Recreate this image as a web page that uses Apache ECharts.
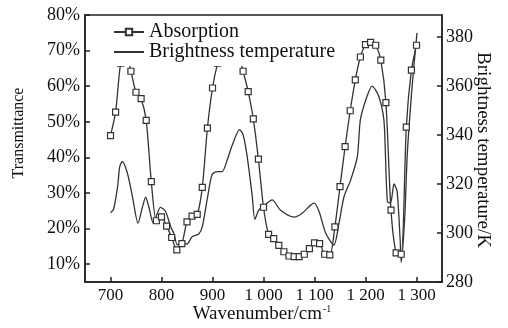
<!DOCTYPE html>
<html><head><meta charset="utf-8">
<script src="https://cdn.jsdelivr.net/npm/echarts@6/dist/echarts.min.js"></script>
<style>html,body{margin:0;padding:0;background:#fff}#c{width:508px;height:328px}</style>
</head><body><div id="c"></div>
<script>
// Absorption (transmittance %) sampled every 10 cm^-1
const absWave = [700,710,720,730,740,750,760,770,780,790,800,810,820,830,840,850,860,870,880,890,900,910,920,930,940,950,960,970,980,990,1000,1010,1020,1030,1040,1050,1060,1070,1080,1090,1100,1110,1120,1130,1140,1150,1160,1170,1180,1190,1200,1210,1220,1230,1240,1250,1260,1270,1280,1290,1300];
const absValue = [46.1,52.7,66.5,69,64.2,58.3,56.5,50.4,33.2,22.2,23.3,20.7,17.5,14.0,15.8,21.9,23.5,24.0,31.6,48.2,59.5,66.5,71,74,74,70,64.2,58.5,50.8,39.5,26.0,18.4,17.2,15.3,13.5,12.3,12.1,12.1,12.8,14.4,16.0,15.8,12.8,12.6,20.5,31.8,43.0,53.1,61.8,68.2,71.7,72.3,71.5,67.3,55.4,25.2,13.2,12.8,48.5,64.5,71.5];
// Brightness temperature (K)
const btWave = [700,706,714,718,723,733,743,754,762,769,775,784,798,808,818,824,831,837,850,860,873,880,890,899,909,919,929,939,953,960,968,978,983,991,1001,1017,1033,1060,1076,1099,1109,1122,1138,1148,1158,1171,1184,1190,1203,1213,1226,1236,1239,1243,1249,1256,1262,1268,1270,1277,1282,1292,1301];
const btValue = [308.3,309.7,319,327,329.2,324.5,314.9,304,310.1,314.6,310.8,304,310.5,308.8,302.6,299.9,295.1,295.8,295.5,298.5,299.6,302.6,314.2,323.8,325.1,325.1,329.9,336,342.2,340.1,331.2,314.9,305.6,309.4,311.1,313.5,309.4,306.5,308.1,312.2,308.8,299.9,295.1,304,314.9,321.7,331.2,346.3,355.8,360,355.8,346.3,332.6,312.8,312.2,320,317,297,288,306.7,332.6,361.3,381.7];
const xTicks = [700,800,900,1000,1100,1200,1300];
const leftTicks = [10,20,30,40,50,60,70,80];
const rightTicks = [280,300,320,340,360,380];
const seriesNames = ['Absorption','Brightness temperature'];

const FONT = '"Liberation Serif","Times New Roman",serif';
const LC = '#333';
const chart = echarts.init(document.getElementById('c'));
chart.setOption({
  animation:false,
  grid:{left:85,right:66,top:15,bottom:46,show:true,borderColor:'#222',borderWidth:1.5,backgroundColor:'transparent'},
  legend:{
    left:105, top:20, orient:'vertical', itemGap:0, itemWidth:30, itemHeight:8,
    padding:[2,6,4,8], backgroundColor:'#fff',
    textStyle:{fontFamily:FONT,fontSize:20,color:'#111',lineHeight:20},
    data:[
      {name:seriesNames[0]},
      {name:seriesNames[1], itemStyle:{color:'rgba(0,0,0,0)',borderColor:'rgba(0,0,0,0)',borderWidth:0}}
    ]
  },
  xAxis:{
    type:'value', min:650, max:1350,
    axisLine:{lineStyle:{color:'#222',width:1.5}},
    axisTick:{inside:true,length:5,customValues:xTicks,lineStyle:{color:'#222',width:1.5}},
    axisLabel:{customValues:xTicks,margin:5,fontFamily:FONT,fontSize:17,color:'#111',
      formatter:v=>v>=1000?(String(v)[0]+' '+String(v).slice(1)):String(v)},
    splitLine:{show:false}
  },
  yAxis:[{
    type:'value', min:5, max:80, position:'left',
    axisLine:{show:true,lineStyle:{color:'#222',width:1.5}},
    axisTick:{show:true,inside:true,length:5,customValues:leftTicks,lineStyle:{color:'#222',width:1.5}},
    axisLabel:{customValues:leftTicks,margin:5,fontFamily:FONT,fontSize:18,color:'#111',formatter:'{value}%'},
    splitLine:{show:false}
  },{
    type:'value', min:280, max:389, position:'right',
    axisLine:{show:true,lineStyle:{color:'#222',width:1.5}},
    axisTick:{show:true,inside:true,length:5,customValues:rightTicks,lineStyle:{color:'#222',width:1.5}},
    axisLabel:{customValues:rightTicks,margin:4,fontFamily:FONT,fontSize:18,color:'#111'},
    splitLine:{show:false}
  }],
  graphic:[
    {type:'text',x:19,y:133,rotation:Math.PI/2,style:{text:'Transmittance',fontFamily:FONT,fontSize:16,fill:'#111',textAlign:'center',textVerticalAlign:'middle'}},
    {type:'text',x:483,y:150,rotation:-Math.PI/2,style:{text:'Brightness temperature/K',fontFamily:FONT,fontSize:19,fill:'#111',textAlign:'center',textVerticalAlign:'middle'}},
    {type:'text',x:262,y:314,style:{text:'{a|Wavenumber/cm}{b|-1}',fontFamily:FONT,fill:'#111',textAlign:'center',textVerticalAlign:'middle',
      rich:{a:{fontFamily:FONT,fontSize:19,fill:'#111'},b:{fontFamily:FONT,fontSize:10,fill:'#111',verticalAlign:'top',padding:[0,0,10,1]}}}}
  ],
  series:[{
    name:seriesNames[0], type:'line', yAxisIndex:0, smooth:0.25,
    symbol:'rect', symbolSize:6, showAllSymbol:true,
    lineStyle:{color:LC,width:1.3},
    itemStyle:{color:'#fff',borderColor:LC,borderWidth:1.2},
    data:absWave.map((w,i)=>[w,absValue[i]]), z:2
  },{
    name:seriesNames[1], type:'line', yAxisIndex:1, smooth:0.25,
    symbol:'none', showSymbol:false,
    lineStyle:{color:LC,width:1.3},
    itemStyle:{color:LC},
    data:btWave.map((w,i)=>[w,btValue[i]]), z:2
  }]
});
</script></body></html>
